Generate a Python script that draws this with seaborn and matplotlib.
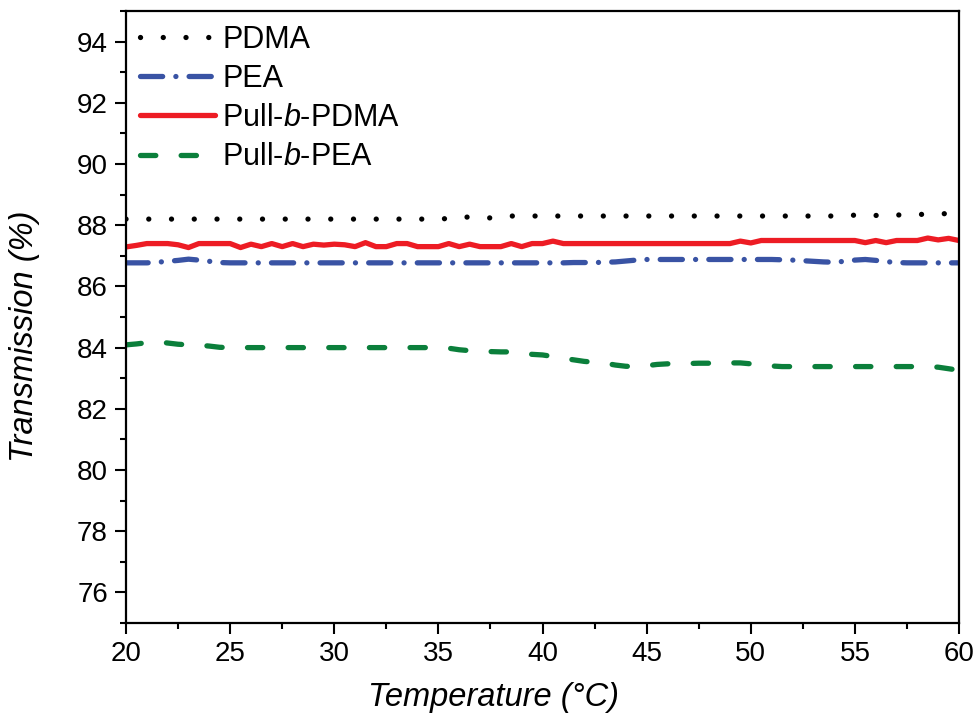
import numpy as np
import pandas as pd
import matplotlib
matplotlib.use("Agg")
import matplotlib.pyplot as plt
import seaborn as sns

temperature = np.arange(20.0, 60.01, 0.5)

pdma = [88.2, 88.2, 88.2, 88.2, 88.2, 88.2, 88.2, 88.2, 88.2, 88.2,
        88.2, 88.2, 88.2, 88.2, 88.2, 88.2, 88.2, 88.2, 88.2, 88.2,
        88.2, 88.2, 88.2, 88.2, 88.2, 88.2, 88.2, 88.2, 88.2, 88.2,
        88.2, 88.22, 88.28, 88.26, 88.22, 88.24, 88.29, 88.3, 88.3, 88.3,
        88.3, 88.3, 88.3, 88.3, 88.3, 88.3, 88.3, 88.3, 88.3, 88.3,
        88.3, 88.3, 88.3, 88.3, 88.3, 88.3, 88.3, 88.3, 88.3, 88.3,
        88.3, 88.3, 88.3, 88.3, 88.3, 88.3, 88.3, 88.3, 88.3, 88.3,
        88.33, 88.36, 88.32, 88.3, 88.33, 88.35, 88.35, 88.36, 88.37, 88.38,
        88.38]

pea = [86.77, 86.77, 86.77, 86.79, 86.82, 86.85, 86.89, 86.86, 86.82, 86.78,
       86.77, 86.77, 86.77, 86.77, 86.77, 86.77, 86.77, 86.77, 86.77, 86.77,
       86.77, 86.77, 86.77, 86.77, 86.77, 86.77, 86.77, 86.77, 86.77, 86.77,
       86.77, 86.77, 86.77, 86.77, 86.77, 86.77, 86.77, 86.77, 86.77, 86.77,
       86.77, 86.77, 86.77, 86.78, 86.78, 86.78, 86.79, 86.8, 86.83, 86.86,
       86.88, 86.88, 86.88, 86.88, 86.88, 86.88, 86.88, 86.88, 86.88, 86.88,
       86.88, 86.88, 86.88, 86.87, 86.86, 86.84, 86.82, 86.8, 86.79, 86.82,
       86.86, 86.88, 86.85, 86.81, 86.78, 86.77, 86.77, 86.77, 86.77, 86.77,
       86.77]

pull_b_pdma = [87.29, 87.34, 87.4, 87.4, 87.4, 87.36, 87.27, 87.4, 87.4, 87.4,
               87.4, 87.27, 87.38, 87.3, 87.4, 87.3, 87.4, 87.3, 87.38, 87.35,
               87.38, 87.36, 87.3, 87.43, 87.3, 87.3, 87.4, 87.4, 87.3, 87.3,
               87.3, 87.4, 87.3, 87.38, 87.3, 87.3, 87.3, 87.4, 87.3, 87.4,
               87.4, 87.48, 87.4, 87.4, 87.4, 87.4, 87.4, 87.4, 87.4, 87.4,
               87.4, 87.4, 87.4, 87.4, 87.4, 87.4, 87.4, 87.4, 87.4, 87.48,
               87.42, 87.5, 87.5, 87.5, 87.5, 87.5, 87.5, 87.5, 87.5, 87.5,
               87.5, 87.43, 87.5, 87.43, 87.5, 87.5, 87.5, 87.58, 87.52, 87.57,
               87.5]

pull_b_pea = [84.09, 84.12, 84.16, 84.19, 84.15, 84.11, 84.09, 84.08, 84.05, 84.01,
              84.0, 84.0, 84.0, 84.0, 84.0, 84.0, 84.0, 84.0, 84.0, 84.0,
              84.0, 84.0, 84.0, 84.0, 84.0, 84.0, 84.0, 84.0, 84.0, 84.0,
              84.0, 83.98, 83.93, 83.9, 83.88, 83.87, 83.86, 83.86, 83.82, 83.78,
              83.76, 83.71, 83.65, 83.6, 83.55, 83.52, 83.49, 83.43, 83.39, 83.38,
              83.41, 83.45, 83.47, 83.47, 83.48, 83.49, 83.49, 83.49, 83.5, 83.5,
              83.47, 83.43, 83.4, 83.38, 83.38, 83.38, 83.38, 83.38, 83.38, 83.38,
              83.38, 83.38, 83.38, 83.38, 83.38, 83.38, 83.38, 83.38, 83.36, 83.31,
              83.26]

series_names = ["PDMA", "PEA", "Pull-$\\it{b}$-PDMA", "Pull-$\\it{b}$-PEA"]
series_values = [pdma, pea, pull_b_pdma, pull_b_pea]
series_colors = ["#000000", "#3953A4", "#ED1C24", "#0B7F3B"]
series_dashes = [(0.01, 4.3), (4.2, 2.5, 0.01, 2.5), None, (2.9, 4.8)]

x_ticks = [20, 25, 30, 35, 40, 45, 50, 55, 60]
y_ticks = [76, 78, 80, 82, 84, 86, 88, 90, 92, 94]

sns.set_theme(style="ticks")
plt.rcParams["font.family"] = ["Liberation Sans", "DejaVu Sans"]
plt.rcParams["mathtext.fontset"] = "custom"
plt.rcParams["mathtext.it"] = "Liberation Sans:italic"
plt.rcParams["mathtext.rm"] = "Liberation Sans"
for k in ["text.color", "axes.labelcolor", "xtick.color", "ytick.color", "axes.edgecolor"]:
    plt.rcParams[k] = "black"

fig = plt.figure(figsize=(9.79, 7.19), dpi=100)
ax = fig.add_axes([0.1287, 0.1335, 0.9796 - 0.1287, 0.9847 - 0.1335])

lw = 3.8
for name, vals, col, dash in zip(series_names, series_values, series_colors, series_dashes):
    df = pd.DataFrame({"T": temperature, "v": vals})
    sns.lineplot(data=df, x="T", y="v", ax=ax, color=col, lw=lw, label=name)
    line = ax.get_lines()[-1]
    line.set_solid_capstyle("round")
    line.set_dash_capstyle("round")
    if dash is not None:
        line.set_dashes(dash)

ax.set_xlim(20, 60)
ax.set_ylim(75, 95)
ax.set_xticks(x_ticks)
ax.set_yticks(y_ticks)
ax.set_xticks(np.arange(22.5, 60, 5), minor=True)
ax.set_yticks(np.arange(75, 95.1, 2), minor=True)
ax.tick_params(axis="both", which="major", labelsize=20, length=8, width=1.5,
               direction="out", pad=5)
ax.tick_params(axis="both", which="minor", length=4.5, width=1.5, direction="out")
ax.tick_params(top=False, right=False, which="both")
for s in ax.spines.values():
    s.set_linewidth(1.6)
    s.set_color("black")

ax.set_xlabel("Temperature (°C)", fontsize=23.5, style="italic")
ax.set_ylabel("Transmission (%)", fontsize=23.5, style="italic")
ax.xaxis.set_label_coords(0.441, -0.0964)
ax.yaxis.set_label_coords(-0.103, 0.469)

leg = ax.legend(loc="upper left", frameon=False, handlelength=2.45,
                handletextpad=0.25, labelspacing=0.3, borderaxespad=0.1,
                borderpad=0.35,
                prop={"family": ["Liberation Sans", "DejaVu Sans"], "size": 22})

fig.savefig("out.png", dpi=100)
